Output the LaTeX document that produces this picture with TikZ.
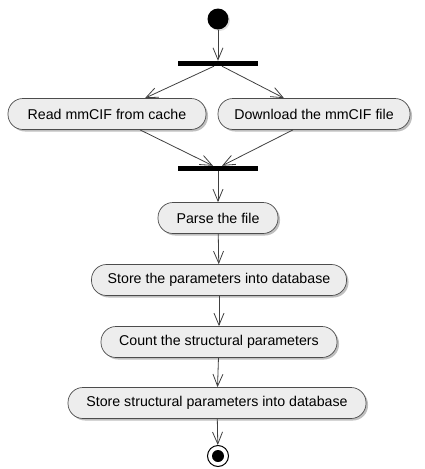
\documentclass[tikz,border=0pt]{standalone}
\usepackage{fontspec}
\setmainfont{Liberation Sans}
\usetikzlibrary{arrows.meta,shadows}

\begin{document}
\begin{tikzpicture}[x=1pt,y=-1pt,
  flow/.style={draw=black!75,line width=0.8pt,-{Straight Barb[length=12pt,width=10pt,line width=0.8pt]}},
  action/.style={draw=black!70,fill=black!7,line width=0.7pt,rounded corners=15pt,
    minimum height=31pt,inner xsep=0pt,font=\fontsize{14.2}{16}\selectfont,
    drop shadow={shadow xshift=2pt,shadow yshift=-2pt,opacity=0.25,fill=black}},
  bar/.style={fill=black,minimum width=80pt,minimum height=5pt,inner sep=0pt},
]
\useasboundingbox (0,0) rectangle (425,469);
\node[circle,fill=black,minimum size=21pt,inner sep=0pt,
  drop shadow={shadow xshift=1.5pt,shadow yshift=-1.5pt,opacity=0.25}] (start) at (218,19) {};
\node[bar] (fork) at (218,63.5) {};
\node[action,minimum width=198pt] (cache) at (107,114) {Read mmCIF from cache};
\node[action,minimum width=192pt] (download) at (314,114) {Download the mmCIF file};
\node[bar] (join) at (218,168.5) {};
\node[action,minimum width=120pt] (parse) at (218,218) {Parse the file};
\node[action,minimum width=255pt] (store) at (219,280) {Store the parameters into database};
\node[action,minimum width=236pt] (count) at (219,342) {Count the structural parameters};
\node[action,minimum width=298pt] (storestruct) at (217,403) {Store structural parameters into database};
\node[circle,draw=black,line width=1pt,fill=white,minimum size=21pt,inner sep=0pt] (stop) at (218,456) {};
\fill (stop) circle (6pt);

\draw[flow] (start) -- (fork);
\draw[flow] ([xshift=-4pt]fork.south) -- ([xshift=38pt]cache.north);
\draw[flow] ([xshift=4pt]fork.south) -- ([xshift=-30pt]download.north);
\draw[flow] ([xshift=33pt]cache.south) -- ([xshift=-5pt]join.north);
\draw[flow] ([xshift=-21pt]download.south) -- ([xshift=4pt]join.north);
\draw[flow] (join) -- (parse);
\draw[flow] (parse) -- (store);
\draw[flow] (store) -- (count);
\draw[flow] (count) -- (storestruct);
\draw[flow] (storestruct) -- (stop);
\end{tikzpicture}
\end{document}
